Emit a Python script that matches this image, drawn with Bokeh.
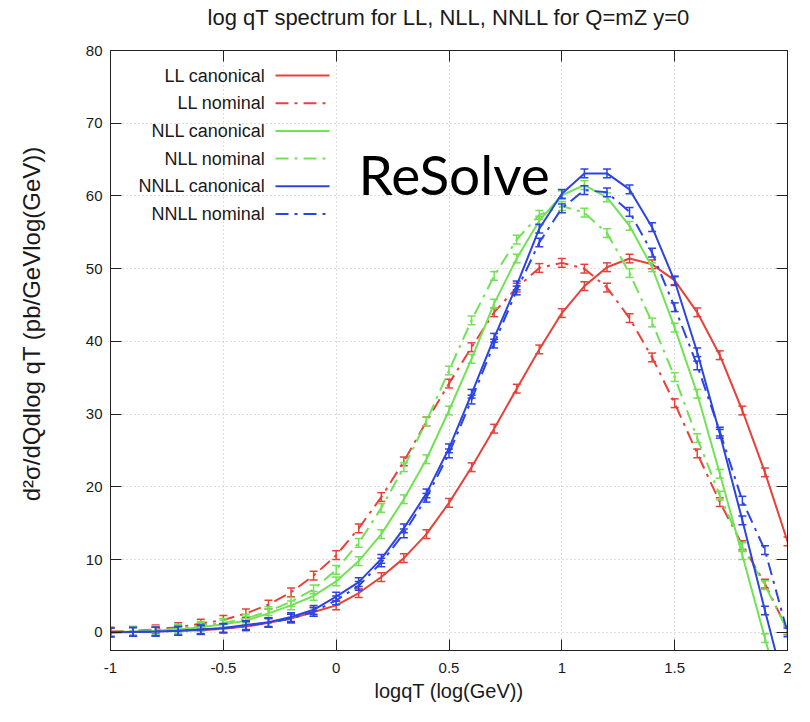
from bokeh.plotting import figure
from bokeh.models import (Label, Arrow, LinearAxis, Range1d, FixedTicker,
                          CustomJSTickFormatter, ColumnDataSource)
from bokeh.embed import file_html
from bokeh.resources import INLINE

# ---------------- data ----------------
log_qT = [-1.0, -0.9, -0.8, -0.7, -0.6, -0.5, -0.4, -0.3, -0.2, -0.1, 0.0,
          0.1, 0.2, 0.3, 0.4, 0.5, 0.6, 0.7, 0.8, 0.9, 1.0,
          1.1, 1.2, 1.3, 1.4, 1.5, 1.6, 1.7, 1.8, 1.9, 2.0]

ll_canonical = [0.0, 0.05, 0.1, 0.2, 0.3, 0.5, 0.8, 1.3, 1.9, 2.8, 3.7,
                5.4, 7.6, 10.2, 13.5, 17.8, 22.7, 28.0, 33.5, 38.9, 43.9,
                47.6, 50.2, 51.4, 50.6, 48.4, 44.0, 38.1, 30.5, 22.0, 12.5]
ll_nominal = [0.1, 0.2, 0.4, 0.7, 1.2, 1.7, 2.6, 3.8, 5.5, 7.8, 10.6,
              14.3, 18.6, 23.5, 29.0, 34.2, 39.2, 44.0, 47.4, 50.1, 50.8,
              50.0, 47.4, 43.2, 37.8, 31.5, 24.6, 17.9, 12.0, 6.7, 0.3]
nll_canonical = [0.0, 0.1, 0.2, 0.4, 0.7, 1.1, 1.6, 2.6, 3.7, 5.0, 7.0,
                 9.8, 13.5, 18.3, 23.8, 30.5, 37.6, 45.2, 51.4, 56.6, 60.1,
                 61.5, 59.8, 55.9, 50.2, 41.9, 32.8, 21.8, 10.6, -0.8, -12.0]
nll_nominal = [0.05, 0.15, 0.3, 0.5, 0.9, 1.3, 1.9, 2.9, 4.2, 5.9, 8.6,
               12.3, 17.1, 22.7, 29.0, 36.0, 42.9, 49.0, 54.0, 57.4, 58.6,
               57.7, 54.9, 49.4, 42.6, 35.1, 26.7, 18.8, 11.7, 6.5, 0.2]
nnll_canonical = [0.0, 0.05, 0.1, 0.2, 0.4, 0.6, 1.0, 1.4, 2.1, 3.1, 4.9,
                  6.9, 10.1, 14.3, 19.1, 25.3, 32.8, 40.5, 47.7, 55.5, 60.3,
                  63.1, 63.1, 60.9, 55.7, 48.3, 38.5, 27.3, 15.4, 3.0, -9.0]
nnll_nominal = [0.0, 0.05, 0.1, 0.2, 0.35, 0.55, 0.9, 1.3, 1.9, 2.8, 4.4,
                6.4, 9.6, 13.6, 18.5, 24.6, 32.0, 39.7, 47.0, 53.6, 58.3,
                60.8, 60.5, 57.8, 52.2, 44.7, 36.7, 27.6, 18.1, 11.3, 0.0]
error_half = 0.6

series_names = ["LL canonical", "LL nominal", "NLL canonical",
                "NLL nominal", "NNLL canonical", "NNLL nominal"]
x_ticks = [-1, -0.5, 0, 0.5, 1, 1.5, 2]
y_ticks = [0, 10, 20, 30, 40, 50, 60, 70, 80]

title_text = "log qT spectrum for LL, NLL, NNLL for Q=mZ y=0"
x_label = "logqT (log(GeV))"
y_label = "d\u00b2\u03c3/dQdlog qT (pb/GeVlog(GeV))"
watermark = "ReSolve"

# ---------------- styling ----------------
RED, GREEN, BLUE = "#e6423a", "#72e255", "#2b44e2"
DASHDOT = "13 6 3 6"
FONT = "Liberation Sans"
TXT = "#1a1a1a"

series = [
    (series_names[0], ll_canonical, RED, "solid"),
    (series_names[1], ll_nominal, RED, DASHDOT),
    (series_names[2], nll_canonical, GREEN, "solid"),
    (series_names[3], nll_nominal, GREEN, DASHDOT),
    (series_names[4], nnll_canonical, BLUE, "solid"),
    (series_names[5], nnll_nominal, BLUE, DASHDOT),
]

p = figure(width=794, height=706, output_backend="svg", toolbar_location=None,
           x_range=Range1d(-1, 2), y_range=Range1d(-2.5, 80),
           min_border_left=110, min_border_right=7,
           min_border_top=50, min_border_bottom=56)
p.background_fill_color = "white"
p.border_fill_color = "white"
p.outline_line_color = "#222222"
p.outline_line_width = 1

top_axis = LinearAxis()
right_axis = LinearAxis()
p.add_layout(top_axis, "above")
p.add_layout(right_axis, "right")

for ax in p.xaxis:
    ax.ticker = FixedTicker(ticks=x_ticks)
for ax in p.yaxis:
    ax.ticker = FixedTicker(ticks=y_ticks)
for ax in p.axis:
    ax.major_tick_in = 11
    ax.major_tick_out = 0
    ax.minor_tick_in = 0
    ax.minor_tick_out = 0
    ax.axis_line_color = "#222222"
    ax.major_tick_line_color = "#222222"
    ax.major_label_text_font = FONT
    ax.major_label_text_font_size = "15px"
    ax.major_label_text_color = TXT
for ax in (top_axis, right_axis):
    ax.formatter = CustomJSTickFormatter(code="return '';")
    ax.major_label_standoff = 0
    ax.major_label_text_font_size = "1px"

# the chart title is carried by the mirrored top axis
top_axis.axis_label = title_text
top_axis.axis_label_standoff = 21
top_axis.axis_label_text_font = FONT
top_axis.axis_label_text_font_size = "22px"
top_axis.axis_label_text_font_style = "normal"
top_axis.axis_label_text_color = TXT

bottom_axis = p.below[0]
left_axis = p.left[0]
bottom_axis.formatter = CustomJSTickFormatter(code="return tick.toString();")
left_axis.formatter = CustomJSTickFormatter(code="return tick.toString();")
bottom_axis.major_label_standoff = 12
left_axis.major_label_standoff = 8

bottom_axis.axis_label = x_label
bottom_axis.axis_label_standoff = 4
bottom_axis.axis_label_text_font = FONT
bottom_axis.axis_label_text_font_size = "20px"
bottom_axis.axis_label_text_font_style = "normal"
bottom_axis.axis_label_text_color = TXT

# leading no-break spaces move the centred label up along the axis
left_axis.axis_label = "\u00a0" * 8 + y_label
left_axis.axis_label_standoff = 38
left_axis.axis_label_text_font = FONT
left_axis.axis_label_text_font_size = "24px"
left_axis.axis_label_text_font_style = "normal"
left_axis.axis_label_text_color = TXT

p.xgrid.ticker = FixedTicker(ticks=x_ticks)
p.ygrid.ticker = FixedTicker(ticks=y_ticks)
p.grid.grid_line_color = "#bdbdbd"
p.grid.grid_line_dash = "1 3"
p.grid.grid_line_width = 1

for name, ys, color, dash in series:
    src = ColumnDataSource(dict(x=log_qT, y=ys,
                                lo=[v - error_half for v in ys],
                                hi=[v + error_half for v in ys]))
    p.line("x", "y", source=src, line_color=color, line_width=2, line_dash=dash)
    p.segment(x0="x", y0="lo", x1="x", y1="hi", source=src,
              line_color=color, line_width=1.5)
    p.scatter("x", "hi", source=src, marker="dash", size=8,
              line_color=color, line_width=1.5)
    p.scatter("x", "lo", source=src, marker="dash", size=8,
              line_color=color, line_width=1.5)

# legend (text to the left of the sample lines, as in the reference)
for i, (name, ys, color, dash) in enumerate(series):
    ly = 575 - i * 27.7
    p.add_layout(Label(x=155, y=ly, x_units="screen", y_units="screen",
                       text=name, text_font=FONT, text_font_size="18px",
                       text_color=TXT, text_align="right",
                       text_baseline="middle"))
    p.add_layout(Arrow(x_start=165, y_start=ly, x_end=219, y_end=ly,
                       start_units="screen", end_units="screen",
                       start=None, end=None, line_color=color,
                       line_width=2, line_dash=dash))

# watermark text
p.add_layout(Label(x=248, y=477, x_units="screen", y_units="screen",
                   text=watermark, text_font="Lato", text_font_size="55px",
                   text_color="black", text_baseline="alphabetic"))

open("out.html", "w").write(file_html(p, INLINE))
